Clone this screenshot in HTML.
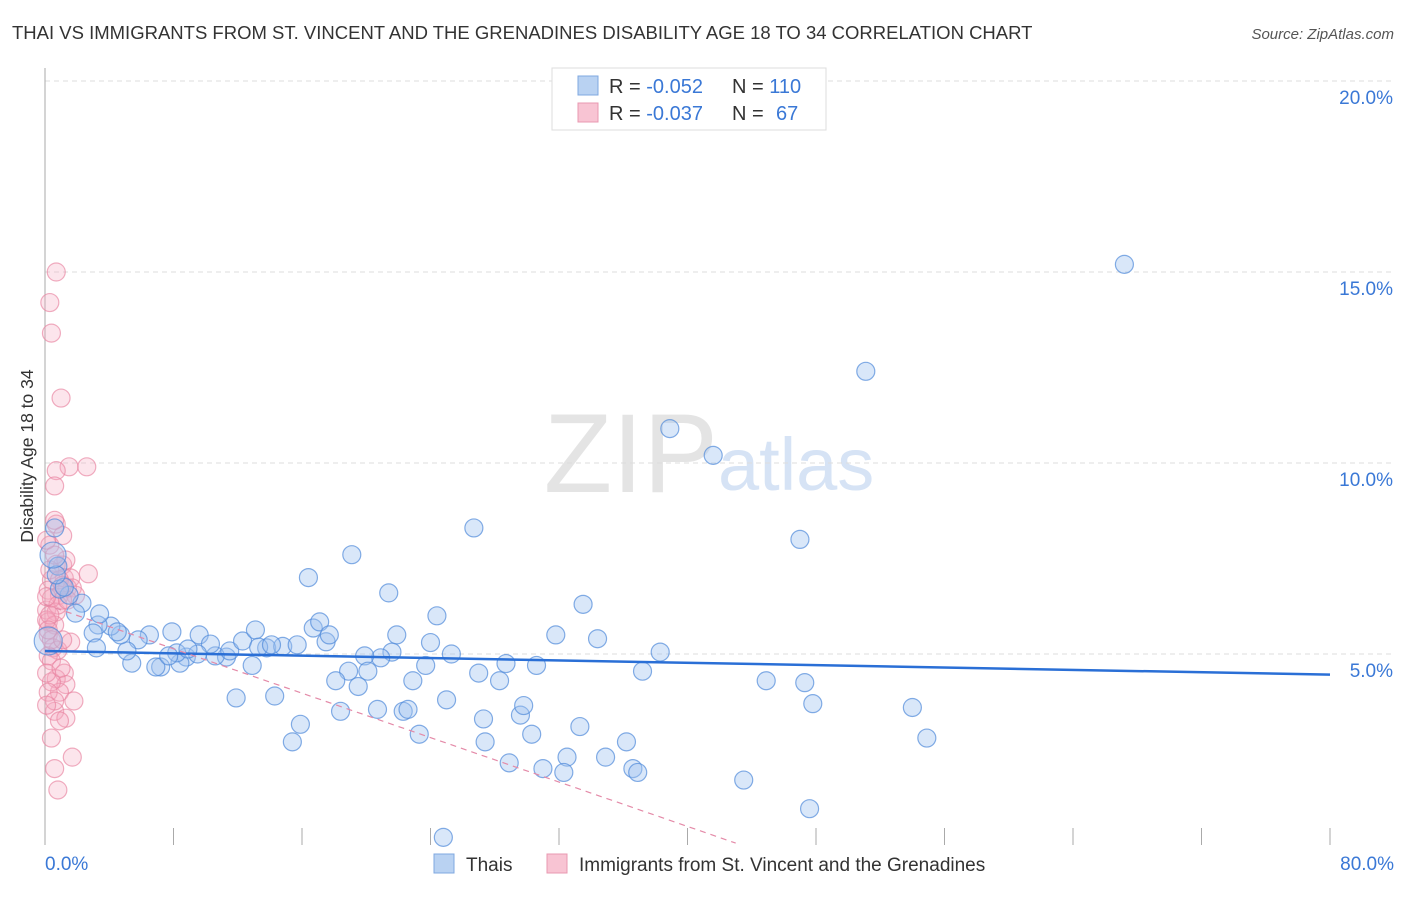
<!DOCTYPE html>
<html><head><meta charset="utf-8"><style>
body{margin:0;background:#fff;font-family:"Liberation Sans",sans-serif}
svg text{font-family:"Liberation Sans",sans-serif}
</style></head><body>
<svg id="c" width="1406" height="892">
<text x="12" y="39" font-size="18.5" fill="#333">THAI VS IMMIGRANTS FROM ST. VINCENT AND THE GRENADINES DISABILITY AGE 18 TO 34 CORRELATION CHART</text>
<text x="1394" y="39" font-size="15" fill="#555" text-anchor="end" font-style="italic">Source: ZipAtlas.com</text>
<text x="718" y="492" font-size="112" fill="#e4e4e4" text-anchor="end" font-family="Liberation Serif">ZIP</text>
<text x="718" y="490" font-size="74" fill="#d6e3f5">atlas</text>
<text transform="translate(33,456) rotate(-90)" font-size="17.5" fill="#333" text-anchor="middle">Disability Age 18 to 34</text>
<g id="grid"></g><g id="marks"></g>
<g>
<rect x="552" y="68" width="274" height="62" fill="#fff" stroke="#ddd"/>
<rect x="578" y="76" width="20" height="19" fill="#b9d2f2" stroke="#7fa8e0"/>
<rect x="578" y="103" width="20" height="19" fill="#f8c4d3" stroke="#e998b0"/>
<text x="609" y="93" font-size="20" fill="#333">R = <tspan fill="#3a78d6">-0.052</tspan><tspan x="732">N = </tspan><tspan fill="#3a78d6">110</tspan></text>
<text x="609" y="120" font-size="20" fill="#333">R = <tspan fill="#3a78d6">-0.037</tspan><tspan x="732">N = </tspan><tspan x="776" fill="#3a78d6">67</tspan></text>
</g>
<g>
<rect x="434" y="854" width="20" height="19" fill="#b9d2f2" stroke="#7fa8e0"/>
<text x="466" y="871" font-size="19" fill="#333">Thais</text>
<rect x="547" y="854" width="20" height="19" fill="#f8c4d3" stroke="#e998b0"/>
<text x="579" y="871" font-size="19" fill="#333">Immigrants from St. Vincent and the Grenadines</text>
</g>
</svg>
<script>
const yTicks=[5,10,15,20];
const xTickCount=10;
const blueX=[67.2,51.1,38.9,41.6,26.7,47.0,19.1,16.4,21.4,33.5,24.4,31.8,34.4,38.3,37.2,44.9,47.3,47.8,54.0,54.9,43.5,47.6,24.8,36.2,36.6,36.9,34.9,32.5,31.0,32.3,28.9,30.3,27.4,29.6,29.8,27.3,33.3,23.3,22.3,22.6,25.0,28.3,27.0,30.6,28.7,25.3,23.7,22.9,24.0,21.9,21.6,20.9,19.9,20.1,18.9,19.5,18.1,18.4,20.7,15.9,15.4,14.3,11.9,12.9,11.3,10.6,11.5,12.3,13.1,13.8,14.8,15.7,16.7,17.1,17.5,17.7,9.6,10.3,8.8,8.4,8.2,7.9,7.2,6.9,7.7,6.5,5.8,5.4,5.1,4.7,4.1,4.5,3.3,3.4,3.0,2.3,1.9,1.5,0.9,1.2,0.8,0.7,0.6,0.5,0.2,3.2,9.5,8.9,13.3,14.1];
const blueY=[15.2,12.4,10.9,10.2,8.3,8.0,7.6,7.0,6.6,6.3,6.0,5.5,5.4,5.05,4.55,4.3,4.25,3.7,3.6,2.8,1.7,0.95,0.2,2.7,2.0,1.9,2.3,2.3,2.0,1.9,2.15,2.9,2.7,3.4,3.65,3.3,3.1,2.9,3.5,3.55,3.8,4.3,4.5,4.7,4.75,5.0,4.7,4.3,5.3,5.5,5.05,4.9,4.95,4.55,4.55,4.15,4.3,3.5,3.55,3.16,2.7,3.9,3.85,4.7,4.92,4.95,5.08,5.34,5.63,5.16,5.2,5.24,5.68,5.84,5.32,5.5,5.5,5.26,4.92,4.76,5.03,5.58,4.66,4.66,4.95,5.5,5.37,4.76,5.08,5.5,5.73,5.58,5.76,6.05,5.55,6.33,6.07,6.54,6.7,6.75,7.3,7.07,8.3,7.59,5.34,5.16,5.0,5.13,5.18,5.24];
const blueR=[9,9,9,9,9,9,9,9,9,9,9,9,9,9,9,9,9,9,9,9,9,9,9,9,9,9,9,9,9,9,9,9,9,9,9,9,9,9,9,9,9,9,9,9,9,9,9,9,9,9,9,9,9,9,9,9,9,9,9,9,9,9,9,9,9,9,9,9,9,9,9,9,9,9,9,9,9,9,9,9,9,9,9,9,9,9,9,9,9,9,9,9,9,9,9,9,9,9,9,9,9,9,9,13,14,9,9,9,9,9];
const pinkX=[0.7,0.3,0.4,1.0,1.5,2.6,0.7,0.6,0.7,1.1,2.7,0.7,1.1,1.2,1.6,1.4,0.4,0.2,0.9,0.1,0.7,0.2,0.6,0.2,0.5,0.8,1.6,0.2,0.4,1.2,0.7,1.3,0.9,0.4,1.8,0.2,0.6,1.3,0.9,0.4,1.7,0.6,0.8,0.6,0.3,1.3,1.7,1.9,1.1,0.4,0.8,0.1,0.4,0.1,1.0,0.6,0.1,0.3,0.6,0.9,1.4,1.1,0.1,0.3,0.2,1.1,0.1];
const pinkY=[15.0,14.2,13.4,11.7,9.9,9.9,9.8,9.4,8.4,8.1,7.1,7.35,7.33,6.99,6.99,6.73,6.94,6.67,6.54,6.15,6.1,5.84,5.76,5.5,5.16,5.1,5.31,4.95,4.82,4.5,4.35,4.2,4.0,4.27,3.77,4.0,3.5,3.32,3.25,2.8,2.3,2.0,1.44,8.5,7.2,7.46,6.73,6.54,6.41,6.46,6.28,5.89,5.37,4.5,4.63,3.77,3.66,7.85,7.59,6.94,6.41,6.8,7.98,6.02,5.63,5.37,6.5];
const pinkR=pinkX.map(()=>9);
const X0=45,X1=1330,Y0=845,Ypx=38.2;
const sx=v=>X0+(X1-X0)*v/80, sy=v=>Y0-v*Ypx;
const NS='http://www.w3.org/2000/svg';
const grid=document.getElementById('grid'),marks=document.getElementById('marks');
function mk(p,tag,a){const e=document.createElementNS(NS,tag);for(const k in a)e.setAttribute(k,a[k]);p.appendChild(e);return e;}
yTicks.forEach(t=>{
 const l=mk(grid,'line',{x1:X0,x2:1394,y1:sy(t),y2:sy(t),stroke:'#ddd','stroke-dasharray':'5,4'});
 
 
 const tx=mk(grid,'text',{x:1393,y:sy(t)+23,'font-size':19,fill:'#3a78d6','text-anchor':'end'});tx.textContent=t.toFixed(1)+'%';
 
 
});
const ax=mk(grid,'line',{x1:X0,x2:X0,y1:68,y2:Y0,stroke:'#aaa'});


for(let i=0;i<=xTickCount;i++){const t=mk(grid,'line',{x1:sx(i*8),x2:sx(i*8),y1:828,y2:Y0,stroke:'#aaa'});
 
 }
[[0,'start',45],[80,'end',1394]].forEach(([v,a,x])=>{const t=mk(grid,'text',{x:x,y:870,'font-size':19,fill:'#3a78d6','text-anchor':a});t.textContent=v.toFixed(1)+'%';
 
 });
pinkX.forEach((x,i)=>{const c=mk(marks,'circle',{cx:sx(x),cy:sy(pinkY[i]),r:pinkR[i],fill:'rgba(244,170,192,0.3)',stroke:'rgba(232,130,160,0.65)','stroke-width':1.2});
 
 });
blueX.forEach((x,i)=>{const c=mk(marks,'circle',{cx:sx(x),cy:sy(blueY[i]),r:blueR[i],fill:'rgba(160,196,240,0.4)',stroke:'rgba(80,138,218,0.7)','stroke-width':1.2});
 
 });
const bt=mk(marks,'line',{x1:sx(0),y1:sy(5.08),x2:sx(80),y2:sy(4.46),stroke:'#2a6fd6','stroke-width':2.5});


const pt=mk(marks,'line',{x1:sx(0),y1:sy(6.3),x2:sx(43),y2:sy(0.05),stroke:'#e48aa8','stroke-width':1.2,'stroke-dasharray':'6,5'});


</script>
</body></html>
